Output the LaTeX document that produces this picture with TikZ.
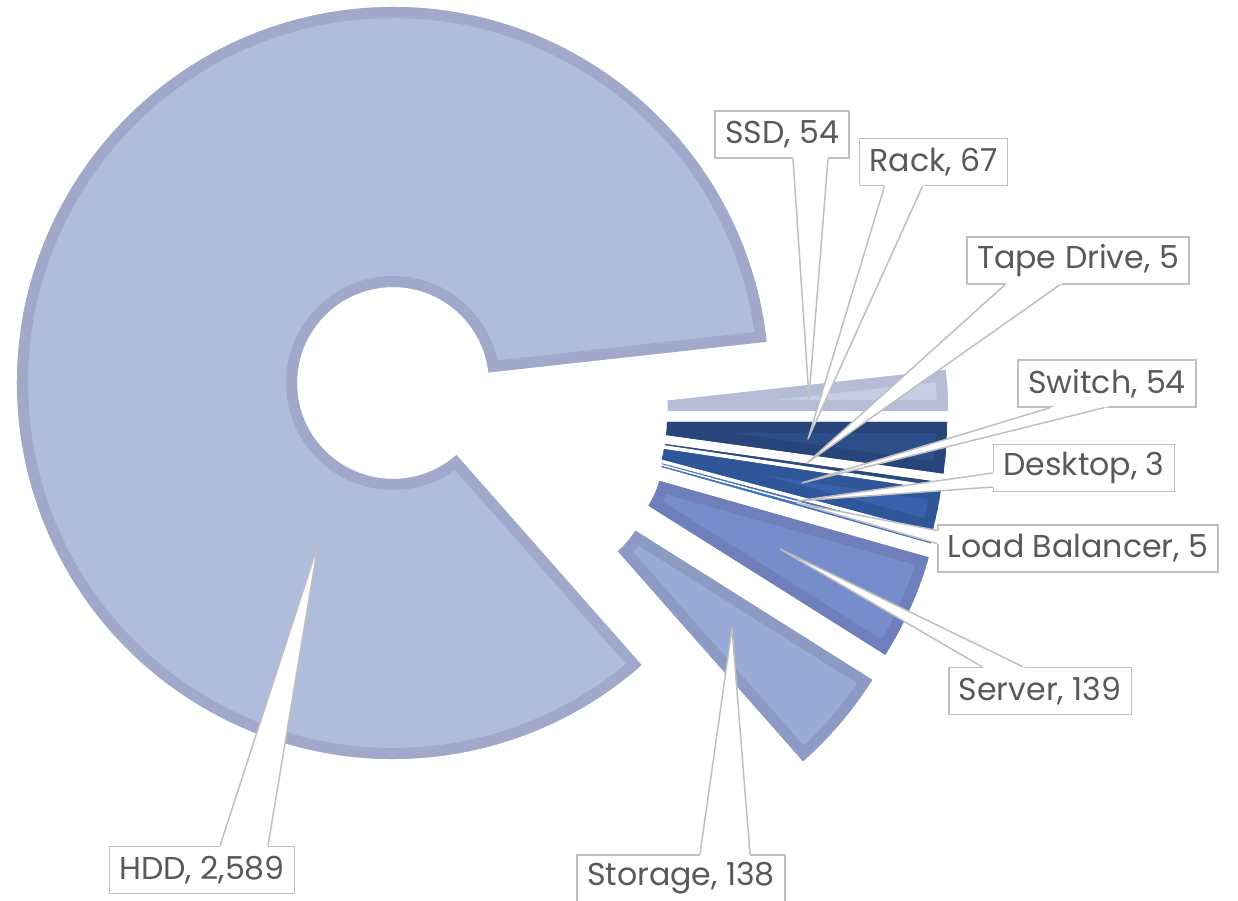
\documentclass[tikz,border=0pt]{standalone}
\usepackage{fontspec}
\setmainfont{Poppins}
\usetikzlibrary{calc}
\definecolor{hddfill}{HTML}{AFBCDC}
\definecolor{hddline}{HTML}{A0A9C9}
\definecolor{ssdfill}{HTML}{C6CEE6}
\definecolor{ssdline}{HTML}{B4BCD6}
\definecolor{rackfill}{HTML}{2D4F89}
\definecolor{rackline}{HTML}{27457A}
\definecolor{tapefill}{HTML}{2A4A82}
\definecolor{switchfill}{HTML}{3962AD}
\definecolor{switchline}{HTML}{30569A}
\definecolor{deskfill}{HTML}{4A6FB8}
\definecolor{lbfill}{HTML}{4472C4}
\definecolor{serverfill}{HTML}{778DCB}
\definecolor{serverline}{HTML}{6E7FBB}
\definecolor{storagefill}{HTML}{9AAAD6}
\definecolor{storageline}{HTML}{8C9AC4}
\definecolor{callgray}{HTML}{BFBFBF}
\definecolor{txtgray}{HTML}{595959}
\newcommand{\px}{0.02cm}
\newcommand{\ringpath}[6]{(#1,#2) ++(#3:#6) arc[start angle=#3,end angle=#4,radius=#6] -- ++({#4+180}:{#6-#5}) arc[start angle=#4,end angle=#3,radius=#5] -- cycle}
\newcommand{\ringslice}[8]{%
  \begin{scope}
    \clip \ringpath{#3}{#4}{#5}{#6}{#7}{#8};
    \filldraw[fill=#1, draw=#2, line width=22*\px] \ringpath{#3}{#4}{#5}{#6}{#7}{#8};
  \end{scope}}
\newcommand{\callout}[3]{%
  \fill[white] ($(#1)!-0.02!(#2)$) -- (#2) -- ($(#3)!-0.02!(#2)$) -- cycle;
  \draw[callline] (#1) -- (#2) -- (#3);}
\tikzset{
  lbl/.style={draw=callgray, fill=white, line width=0.85pt, text=txtgray,
    font=\fontsize{18}{21}\selectfont, inner xsep=10*\px, minimum height=47*\px},
  callline/.style={draw=callgray, line width=0.85pt, line join=round}
}
\begin{document}
\begin{tikzpicture}[x=0.02cm, y=0.02cm]
\useasboundingbox (0,0) rectangle (1238,-901);
\ringslice{hddfill}{hddline}{393}{-383}{6.3}{311.4}{96}{376}
\ringslice{ssdfill}{ssdline}{573}{-411}{6.3}{0}{95}{375}
\ringslice{rackfill}{rackline}{572}{-422}{0}{-7.9}{95}{375}
\ringslice{tapefill}{tapefill}{571}{-431}{-7.9}{-8.5}{95}{375}
\ringslice{switchfill}{switchline}{570}{-435}{-8.5}{-14.9}{95}{375}
\ringslice{deskfill}{deskfill}{570}{-439}{-14.9}{-15.25}{95}{375}
\ringslice{lbfill}{lbfill}{570}{-441}{-15.25}{-15.84}{95}{375}
\ringslice{serverfill}{serverline}{568}{-455}{-15.84}{-32.2}{95}{375}
\ringslice{storagefill}{storageline}{555}{-480}{-32.2}{-48.6}{95}{375}

\node[lbl] (ssd) at (782,-134.5) {SSD, 54};
\node[lbl] (rack) at (933.5,-162) {Rack, 67};
\node[lbl] (tape) at (1078,-260.5) {Tape Drive, 5};
\node[lbl] (switch) at (1107,-383.5) {Switch, 54};
\node[lbl] (desktop) at (1084,-468) {Desktop, 3};
\node[lbl] (lb) at (1078,-548.5) {Load Balancer, 5};
\node[lbl] (server) at (1040,-691) {Server, 139};
\node[lbl] (storage) at (681,-878.5) {Storage, 138};
\node[lbl] (hdd) at (202,-870) {HDD, 2,589};

\coordinate (ssd-a) at ([xshift=11*\px]ssd.south);
\coordinate (ssd-b) at ([xshift=46*\px]ssd.south);
\coordinate (ssd-tip) at (809,-398);
\coordinate (rack-a) at ([xshift=-49*\px]rack.south);
\coordinate (rack-b) at ([xshift=-11*\px]rack.south);
\coordinate (rack-tip) at (808,-439);
\coordinate (tape-a) at ([xshift=-73*\px]tape.south);
\coordinate (tape-b) at ([xshift=-18*\px]tape.south);
\coordinate (tape-tip) at (807,-463);
\coordinate (switch-a) at ([xshift=-57*\px]switch.south);
\coordinate (switch-b) at ([xshift=-3*\px]switch.south);
\coordinate (switch-tip) at (802,-483);
\coordinate (desktop-a) at ([yshift=-5*\px]desktop.west);
\coordinate (desktop-b) at ([yshift=-19*\px]desktop.west);
\coordinate (desktop-tip) at (797,-501);
\coordinate (lb-a) at ([yshift=18*\px]lb.west);
\coordinate (lb-b) at ([yshift=5*\px]lb.west);
\coordinate (lb-tip) at (797,-503);
\coordinate (server-a) at ([xshift=-58*\px]server.north);
\coordinate (server-b) at ([xshift=-17*\px]server.north);
\coordinate (server-tip) at (780,-549);
\coordinate (storage-a) at ([xshift=19*\px]storage.north);
\coordinate (storage-b) at ([xshift=69*\px]storage.north);
\coordinate (storage-tip) at (732,-628);
\coordinate (hdd-a) at ([xshift=18*\px]hdd.north);
\coordinate (hdd-b) at ([xshift=66*\px]hdd.north);
\coordinate (hdd-tip) at (318,-545);

\callout{ssd-a}{ssd-tip}{ssd-b}
\callout{rack-a}{rack-tip}{rack-b}
\callout{tape-a}{tape-tip}{tape-b}
\callout{switch-a}{switch-tip}{switch-b}
\callout{desktop-a}{desktop-tip}{desktop-b}
\callout{lb-a}{lb-tip}{lb-b}
\callout{server-a}{server-tip}{server-b}
\callout{storage-a}{storage-tip}{storage-b}
\callout{hdd-a}{hdd-tip}{hdd-b}
\end{tikzpicture}
\end{document}
